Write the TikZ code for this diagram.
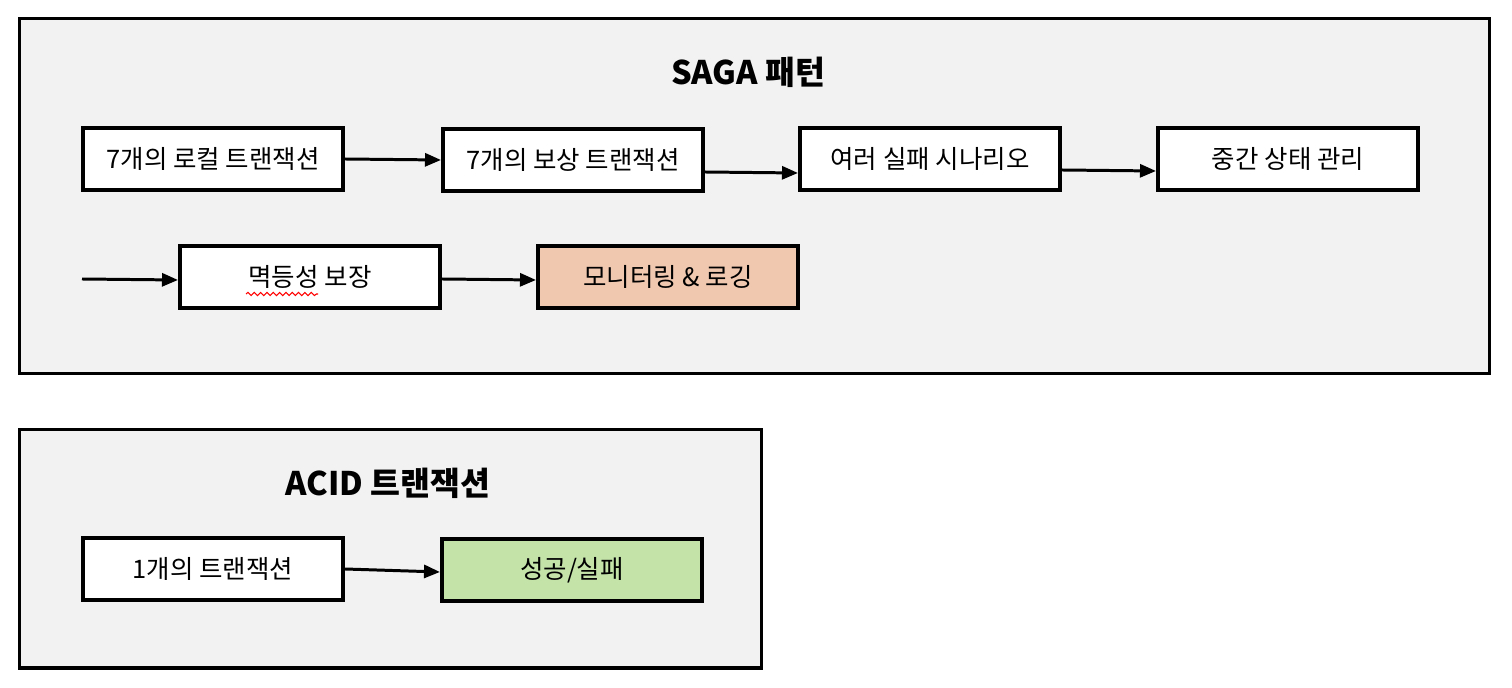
\documentclass[tikz,border=0pt]{standalone}
\usepackage{fontspec}
\setmainfont{Noto Sans CJK KR}
\usetikzlibrary{positioning}
\usetikzlibrary{arrows.meta}
\usetikzlibrary{decorations.pathmorphing}
\definecolor{panelgray}{HTML}{F2F2F2}
\definecolor{peach}{HTML}{F0C8B0}
\definecolor{leafgreen}{HTML}{C3E3A9}

\begin{document}
\begin{tikzpicture}[x=0.02cm,y=-0.02cm,
    panel/.style={draw=black,line width=2pt,fill=panelgray},
    stepbox/.style={shape=rectangle,draw=black,line width=2.3pt,fill=white,
        minimum width=5.2cm,minimum height=1.24cm,inner sep=0pt,
        font=\fontsize{14.5}{16}\selectfont},
    heading/.style={font=\bfseries\fontsize{18.5}{20}\selectfont},
    flow/.style={line width=1.7pt,-{Triangle[length=3.2mm,width=2.6mm]}}]
    \useasboundingbox (0,0) rectangle (1512,688);

    % SAGA panel
    \draw[panel] (19.5,18.5) rectangle (1489.5,373.5);
    \node[heading] (saga) at (748,72) {SAGA 패턴};
    \node[stepbox] (local) at (213,159) {7개의 로컬 트랜잭션};
    \node[stepbox] (comp) at (573,160) {7개의 보상 트랜잭션};
    \node[stepbox] (fail) at (930,159) {여러 실패 시나리오};
    \node[stepbox] (state) at (1288,159) {중간 상태 관리};
    \coordinate (cont) at (82,279);
    \node[stepbox] (idem) at (310,277) {멱등성 보장};
    \node[stepbox,fill=peach] (monitor) at (668,277) {모니터링 \& 로깅};
    \draw[red,line width=0.6pt,decorate,decoration={snake,amplitude=0.9pt,segment length=3.6pt}]
        (246,294) -- (318,294);

    \path [flow] (local.east) edge (comp.west);
    \path [flow] ([yshift=-0.24cm]comp.east) edge ([yshift=-0.28cm]fail.west);
    \path [flow] ([yshift=-0.22cm]fail.east) edge ([yshift=-0.24cm]state.west);
    \path [flow] (cont) edge ([yshift=-0.06cm]idem.west);
    \path [flow] ([yshift=-0.04cm]idem.east) edge ([yshift=-0.06cm]monitor.west);

    % ACID panel
    \draw[panel] (19.5,429.5) rectangle (761.5,668);
    \node[heading] (acid) at (388,483) {ACID 트랜잭션};
    \node[stepbox] (single) at (213,569) {1개의 트랜잭션};
    \node[stepbox,fill=leafgreen] (result) at (572,570) {성공/실패};

    \path [flow] (single.east) edge ([yshift=-0.04cm]result.west);
\end{tikzpicture}
\end{document}
